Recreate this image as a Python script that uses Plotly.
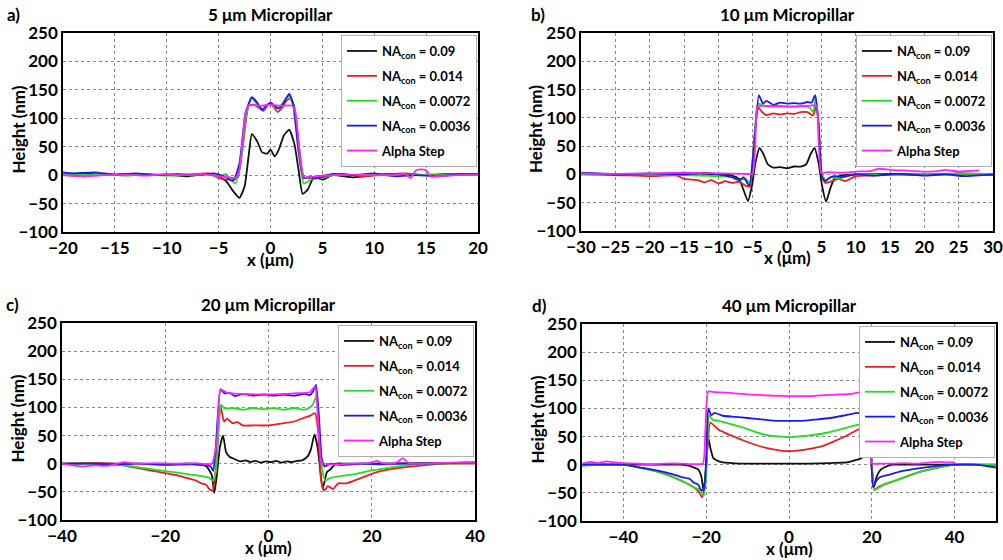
import plotly.graph_objects as go
from plotly.subplots import make_subplots

# legend labels / colours shared by all four panels
labels = ['NA<sub>con</sub> = 0.09', 'NA<sub>con</sub> = 0.014', 'NA<sub>con</sub> = 0.0072',
          'NA<sub>con</sub> = 0.0036', 'Alpha Step']
colors = ['#111111', '#ee1c1c', '#22dd22', '#1a1aee', '#ff22ff']

# ---- a) 5 um micropillar
a_x_black = [-20,-18,-16,-14,-12,-10,-8,-6,-5,-4.3,-3.6,-3,-2.5,-2.1,-1.8,-1.3,-0.8,-0.3,0,0.4,0.8,1.3,1.8,2.3,2.7,3.1,3.6,4.1,4.6,5,6,8,10,12,14,16,18,20]
a_y_black = [2,3,0,2,0,1,-2,2,-3,-10,-28,-40,-20,35,72,60,40,38,45,33,45,70,80,55,10,-33,-25,-6,-5,-8,0,-4,0,2,0,1,2,1]
a_x_red = [-20,-18,-16,-14,-12,-10,-8,-6,-5,-4,-3.2,-2.6,-2.1,-1.6,-1.1,-0.7,-0.3,0,0.3,0.7,1.1,1.5,1.9,2.3,2.7,3.2,3.8,4.5,5.5,7,9,11,13,15,17,20]
a_y_red = [0,-2,1,0,2,0,1,3,-5,-8,-5,60,122,124,118,113,122,127,120,111,118,130,135,120,60,-3,-5,-2,0,2,-2,1,3,0,2,1]
a_x_green = [-20,-18,-16,-14,-12,-10,-8,-6,-5,-4.3,-3.4,-2.8,-2.3,-1.8,-1.3,-0.8,-0.3,0,0.4,0.7,1.1,1.5,1.8,2.2,2.7,3.2,3.7,4.3,5,6,8,10,12,14,16,18,20]
a_y_green = [2,0,2,-1,1,-1,0,2,-3,2,-15,30,110,135,125,115,122,128,120,117,125,135,140,120,40,-15,-10,-3,-5,0,0,1,-1,1,0,0,0]
a_x_blue = [-20,-19,-17,-15,-13,-11,-9,-7,-5.5,-4.5,-3.6,-3,-2.4,-1.8,-1.3,-0.8,-0.3,0,0.4,0.8,1.2,1.5,1.8,2.2,2.7,3.2,3.8,4.3,5,6,8,10,12,14,16,18,20]
a_y_blue = [5,3,5,1,3,0,2,0,3,-2,-10,20,110,137,128,115,124,127,122,117,125,135,143,125,45,-5,-3,-6,-3,2,0,3,-2,0,-2,1,2]
a_x_mag = [-20,-18,-16,-14,-12,-10,-8,-6,-4.5,-3.2,-2.8,-2.4,-2.1,-1,0,1,2.1,2.4,2.8,3.2,4.5,6,8,10,12,13,13.5,14,14.5,15,15.5,16,18,20]
a_y_mag = [0,-2,0,1,-1,2,0,1,-3,-4,40,110,123,122,124,122,122,110,40,-3,-2,0,1,0,0,2,-5,8,10,8,-3,-2,0,1]

# ---- b) 10 um micropillar
b_x_black = [-30,-25,-20,-15,-10,-8,-7,-6.4,-5.7,-5.1,-4.6,-4,-3.4,-2.8,-2,-1,0,1,2,2.8,3.4,4,4.6,5.1,5.7,6.3,7,8,10,15,20,25,30]
b_y_black = [2,1,0,2,0,-2,-8,-25,-47,-20,20,47,35,18,12,13,11,14,14,18,35,47,20,-20,-48,-25,-5,-2,0,1,0,2,1]
b_x_red = [-30,-25,-20,-16,-15,-13,-12,-11,-10,-9,-8,-7,-6,-5.4,-4.8,-4.2,-3.6,-3,-2,-1,0,1,2,3,3.8,4.3,4.7,5.1,5.6,6.5,7.5,8.5,10,12,15,20,25,30]
b_y_red = [0,-1,-3,-2,-8,-10,-14,-10,-16,-12,-15,-13,-20,-22,60,118,110,105,108,106,108,107,110,110,104,122,60,-5,-15,-12,-8,-12,-3,-2,0,-1,0,-1]
b_x_green = [-30,-25,-20,-15,-10,-8,-7,-6,-5.4,-4.8,-4.2,-3.5,-2.5,-1.5,0,1.5,2.5,3.3,3.8,4.2,4.7,5.1,5.6,6.5,7.5,9,12,15,20,25,30]
b_y_green = [0,1,0,-1,-3,-5,-10,-8,-15,60,125,122,120,122,120,120,121,118,110,138,70,0,-10,-5,-7,-2,0,-1,0,1,1]
b_x_blue = [-30,-25,-20,-15,-12,-10,-8,-7,-6.3,-5.5,-4.8,-4.1,-3.5,-3,-2,-1,0,1,2,3,3.6,4.1,4.6,5.1,5.6,6.3,7,8,10,13,16,20,23,26,30]
b_y_blue = [3,0,2,0,3,0,-5,-10,-5,-20,50,140,125,130,123,127,125,126,125,128,127,140,90,-5,-12,-5,-3,-5,0,-2,1,-2,0,-3,0]
b_x_mag = [-30,-25,-20,-15,-10,-6,-5,-4.6,-4.3,-3,0,3,4.3,4.6,5,6,8,10,12,13.5,15,17,20,22,23,25,28]
b_y_mag = [2,1,2,3,2,1,1,60,120,121,120,121,122,60,3,4,3,5,6,10,8,7,5,6,8,5,7]

# ---- c) 20 um micropillar
c_x_black = [-40,-35,-30,-25,-20,-15,-12,-11,-10.5,-10,-9.4,-8.8,-8.2,-7.5,-6.5,-5.5,-4.5,-3.5,-2.5,-1.5,-0.5,0.5,1.5,2.5,3.5,4.5,5.5,6.5,7.5,8.2,8.9,9.5,10,10.5,11.3,12,13,15,20,30,40]
c_y_black = [0,1,0,0,-1,0,-5,-20,-52,-20,30,50,20,12,8,4,6,3,5,2,4,3,5,2,4,3,5,6,12,25,52,30,-10,-45,-15,-10,0,0,0,1,2]
c_x_red = [-40,-35,-30,-27,-24,-21,-18,-16,-14,-13,-12,-11.5,-10.8,-10.2,-9.3,-8.6,-8,-7,-6,-5,-3,0,3,5,7,8,9,9.6,10.2,10.8,11.5,12.5,13.5,15,18,21,25,30,35,40]
c_y_red = [0,1,0,-5,-10,-15,-20,-25,-30,-35,-38,-45,-48,-10,103,75,80,72,74,68,68,68,72,75,82,85,90,60,-30,-48,-40,-45,-35,-35,-25,-15,-8,-3,0,0]
c_x_green = [-40,-35,-32,-28,-24,-20,-16,-13,-11.5,-10.8,-10.2,-9.2,-8.5,-7,-5,-3,-1,1,3,5,7,8,8.6,9.3,9.8,10.4,11,12,14,17,20,25,30,35,40]
c_y_green = [0,0,-1,-3,-8,-13,-18,-22,-25,-30,-15,105,98,99,96,99,97,99,96,99,96,100,105,120,60,-10,-30,-25,-22,-18,-12,-5,0,0,1]
c_x_blue = [-40,-35,-30,-25,-20,-15,-12,-11.2,-10.7,-10.2,-9.3,-8.5,-7.5,-6.5,-5,-3,-1,1,3,5,7,8,8.6,9.2,9.8,10.3,10.9,12,14,18,22,26,30,35,38,40]
c_y_blue = [0,0,-1,0,-2,-1,-3,-5,-13,30,132,125,126,120,124,121,123,121,123,121,124,122,128,140,80,10,-5,0,-2,0,-1,0,0,1,2,2]
c_x_mag = [-40,-38,-36,-34,-32,-30,-28,-26,-22,-18,-14,-11,-10,-9.3,-8,-5,0,5,8,9,9.6,10.2,10.8,13,16,19,20,21,22,24,25,26,27,29,32,36,40]
c_y_mag = [0,-3,-5,-3,-4,-2,3,0,1,0,1,0,40,132,126,124,123,125,127,137,80,5,0,-1,0,1,2,5,1,0,3,10,2,0,1,2,3]

# ---- d) 40 um micropillar
d_x_black = [-50,-45,-40,-35,-30,-26,-24,-23,-22,-21.2,-20.6,-20,-19.5,-19,-18.3,-17.5,-16,-14,-12,-10,-5,0,5,10,14,16,17,18,18.8,19.5,20,20.5,21,22,23,25,30,40,50]
d_y_black = [0,0,0,0,0,0,-2,-5,-8,-20,-47,0,48,30,12,8,4,3,2,2,2,2,2,3,4,8,10,15,25,52,0,-40,-25,-10,-5,0,0,0,0]
d_x_red = [-50,-45,-40,-36,-32,-28,-25,-23,-21.8,-21,-20.4,-19.6,-19,-17,-14,-11,-8,-5,-2,0,2,5,8,11,14,16,17.5,18.5,19.2,20,20.6,21.5,23,25,28,32,36,40,45,50]
d_y_red = [0,1,0,-5,-12,-22,-32,-40,-48,-58,-40,40,75,62,52,43,35,29,25,24,25,28,33,42,52,60,65,70,72,-10,-45,-40,-35,-30,-22,-12,-5,0,0,-1]
d_x_green = [-50,-45,-40,-36,-32,-28,-25,-23,-21.5,-20.6,-20,-19.3,-18.5,-17,-14,-11,-8,-5,-2,0,2,5,8,11,14,16,17.5,18.5,19.2,20,20.6,21.5,23,25,28,32,36,40,45,50]
d_y_green = [-2,0,0,-5,-12,-22,-32,-40,-45,-55,-20,88,80,78,72,66,58,52,50,49,50,52,55,60,66,70,72,75,90,0,-45,-42,-35,-30,-22,-12,-5,0,0,0]
d_x_blue = [-50,-45,-40,-36,-32,-28,-26,-24,-23,-22,-21.2,-20.6,-20,-19.5,-18.8,-18,-16,-13,-10,-6,-3,0,3,6,10,13,15,16.5,17.5,18.8,19.6,20.3,21,22,24,27,30,35,40,45,50]
d_y_blue = [0,0,0,-5,-10,-17,-22,-25,-32,-35,-45,-45,10,100,88,92,87,85,83,80,78,78,78,80,83,87,90,92,92,105,60,-40,-30,-22,-18,-12,-8,-3,0,0,-5]
d_x_mag = [-50,-48,-46,-44,-42,-40,-37,-34,-30,-26,-23,-20.8,-20.2,-19.5,-18,-15,-10,-5,0,5,10,15,18,18.8,19.5,20,22,25,28,31,34,36,38,40]
d_y_mag = [2,5,3,6,4,3,2,1,2,2,1,2,60,130,129,128,125,123,122,122,124,126,130,128,60,2,2,2,3,2,4,5,4,4]

titles = ['5 \u03bcm Micropillar', '10 \u03bcm Micropillar', '20 \u03bcm Micropillar', '40 \u03bcm Micropillar']
letters = ['a)', 'b)', 'c)', 'd)']
x_ranges = [[-20, 20], [-30, 30], [-40, 40], [-50, 50]]
x_dticks = [5, 5, 20, 20]

panels = [
    [(a_x_black, a_y_black), (a_x_red, a_y_red), (a_x_green, a_y_green), (a_x_blue, a_y_blue), (a_x_mag, a_y_mag)],
    [(b_x_black, b_y_black), (b_x_red, b_y_red), (b_x_green, b_y_green), (b_x_blue, b_y_blue), (b_x_mag, b_y_mag)],
    [(c_x_black, c_y_black), (c_x_red, c_y_red), (c_x_green, c_y_green), (c_x_blue, c_y_blue), (c_x_mag, c_y_mag)],
    [(d_x_black, d_y_black), (d_x_red, d_y_red), (d_x_green, d_y_green), (d_x_blue, d_y_blue), (d_x_mag, d_y_mag)],
]

# plot-area positions in pixels (left, right, top, bottom) for the 1003x560 page
W, H = 1003, 560
boxes = [(63, 478, 33, 232), (581, 993, 33, 231), (62, 475, 323, 520), (582, 996, 324, 521)]

FONT = 'Lato, Open Sans, sans-serif'

fig = make_subplots(rows=2, cols=2)
legend_names = ['legend', 'legend2', 'legend3', 'legend4']

for i, traces in enumerate(panels):
    row, col = i // 2 + 1, i % 2 + 1
    for j, (xs, ys) in enumerate(traces):
        fig.add_trace(go.Scatter(x=xs, y=ys, mode='lines', name=labels[j],
                                 line=dict(color=colors[j], width=1.8, shape='spline', smoothing=0.5),
                                 legend=legend_names[i], legendgroup='p%d_%d' % (i, j)),
                      row=row, col=col)

layout = dict(width=W, height=H, margin=dict(l=0, r=0, t=0, b=0),
              paper_bgcolor='white', plot_bgcolor='white',
              font=dict(family=FONT, size=15, color='black', weight='bold'))
annotations = []


def note(text, px, py, angle=0):
    # text centred on a pixel position of the page
    return dict(text=text, x=px / W, y=1 - py / H, xref='paper', yref='paper',
                xanchor='center', yanchor='middle', textangle=angle, showarrow=False,
                font=dict(size=17, family=FONT, weight='bold'))


for i, (l, r, t, b) in enumerate(boxes):
    sfx = '' if i == 0 else str(i + 1)
    xd = [l / W, r / W]
    yd = [1 - b / H, 1 - t / H]
    layout['xaxis' + sfx] = dict(domain=xd, range=x_ranges[i], dtick=x_dticks[i], showgrid=True,
                                 gridcolor='#8a8a8a', griddash='dot', gridwidth=1, zeroline=False,
                                 showline=True, mirror=True, linecolor='black', linewidth=1.5,
                                 ticks='', ticklen=0, automargin=False,
                                 tickfont=dict(size=17, family=FONT, weight='bold'))
    layout['yaxis' + sfx] = dict(domain=yd, range=[-100, 250], dtick=50, showgrid=True,
                                 gridcolor='#8a8a8a', griddash='dot', gridwidth=1, zeroline=False,
                                 showline=True, mirror=True, linecolor='black', linewidth=1.5,
                                 ticks='', ticklen=0, automargin=False,
                                 tickfont=dict(size=17, family=FONT, weight='bold'))
    layout[legend_names[i]] = dict(x=(r - 1) / W, y=1 - (t + 2) / H, xanchor='right', yanchor='top',
                                   bgcolor='white', bordercolor='#b0b0b0', borderwidth=1,
                                   font=dict(size=13, family=FONT, weight='bold'),
                                   itemwidth=30, tracegroupgap=5)
    cx = (l + r) / 2
    annotations.append(note(titles[i], cx, t - 19))
    annotations.append(note(letters[i], l - 50 if i % 2 == 0 else l - 43, t - 19))
    annotations.append(note('Height (nm)', l - 45, (t + b) / 2 - 3, angle=-90))
    annotations.append(note('x (\u03bcm)', cx, b + 27))

layout['annotations'] = annotations
fig.update_layout(**layout)
# the page body has a default 8px margin; drop it so the figure sits at the window corner
fig.write_html('out.html', config={'displayModeBar': False},
               post_script="document.body.style.margin='0';")
